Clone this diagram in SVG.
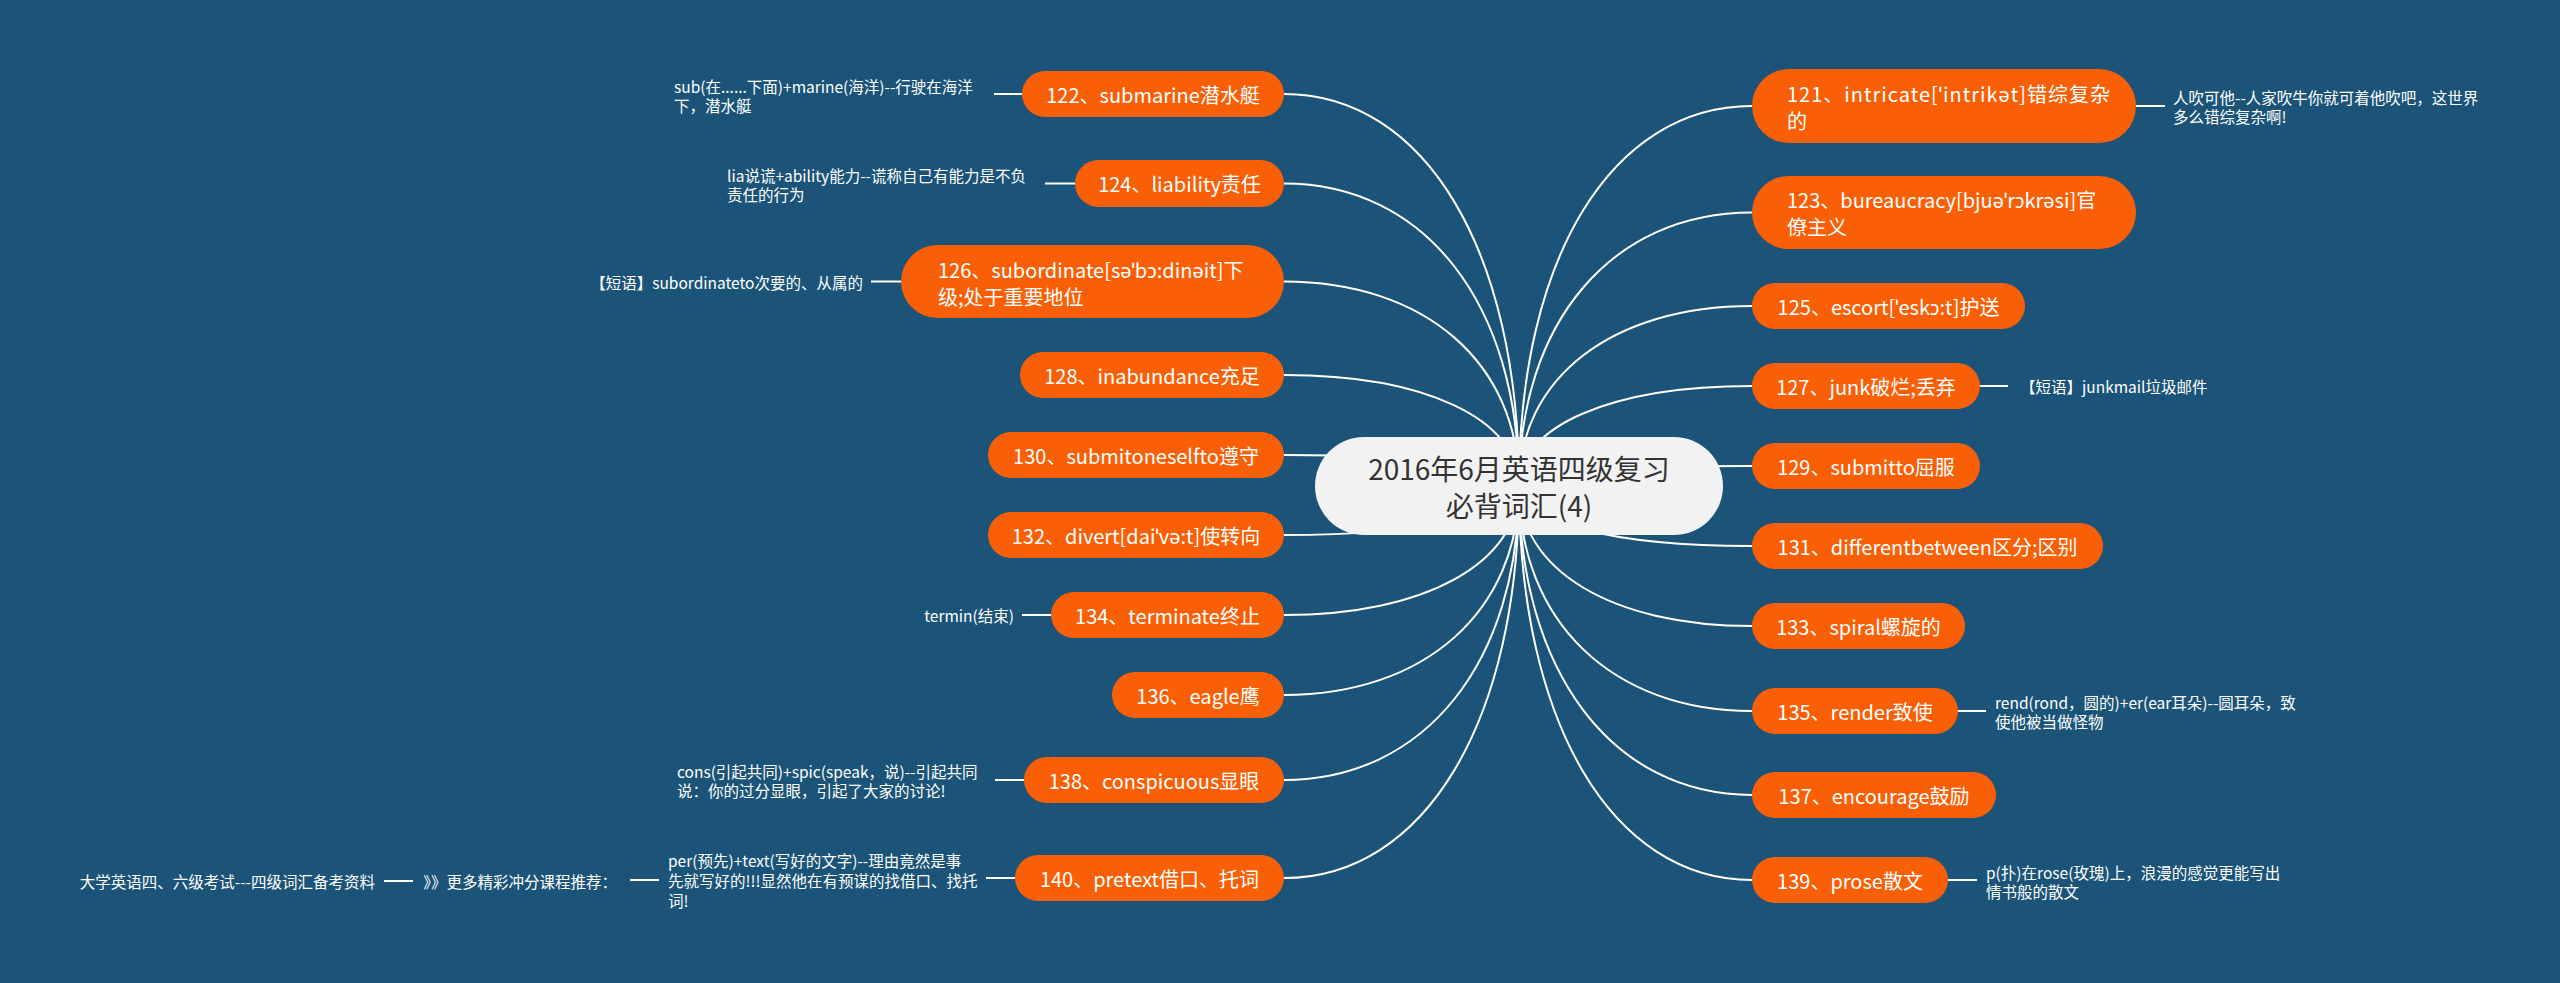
<svg xmlns="http://www.w3.org/2000/svg" width="2560" height="983" viewBox="0 0 2560 983">
<style>
.bg{fill:#1b5478}
.node rect{fill:#f95f07}
.nt{font-family:"Noto Sans CJK SC","Noto Sans",sans-serif;font-size:20px;fill:#ffffff;dominant-baseline:central}
.mid{text-anchor:middle}
.sub{font-family:"Noto Sans CJK SC","Noto Sans",sans-serif;font-size:15.5px;fill:#ffffff;dominant-baseline:central}
.end{text-anchor:end}
.root rect{fill:#f2f2f2}
.rt{font-family:"Noto Sans CJK SC","Noto Sans",sans-serif;font-size:28px;fill:#333333;text-anchor:middle;dominant-baseline:central}
.con path,.con line{stroke:#ffffff;stroke-width:2;fill:none}
</style>
<rect class="bg" x="0" y="0" width="2560" height="983"/>
<g id="connectors" class="con">
<path d="M1519,486 C1519,251 1425,94 1284,94"/>
<path d="M1519,486 C1519,304 1425,183.5 1284,183.5"/>
<path d="M1519,486 C1519,363 1425,281.5 1284,281.5"/>
<path d="M1519,486 C1519,419 1425,375 1284,375"/>
<path d="M1519,486 C1519,467 1425,455 1284,455"/>
<path d="M1519,486 C1519,515 1425,535 1284,535"/>
<path d="M1519,486 C1519,563 1425,615 1284,615"/>
<path d="M1519,486 C1519,611 1425,695 1284,695"/>
<path d="M1519,486 C1519,662 1425,780 1284,780"/>
<path d="M1519,486 C1519,721 1425,878 1284,878"/>
<path d="M1519,486 C1519,258 1612,106 1752,106"/>
<path d="M1519,486 C1519,322 1612,212.5 1752,212.5"/>
<path d="M1519,486 C1519,378 1612,306 1752,306"/>
<path d="M1519,486 C1519,426 1612,386 1752,386"/>
<path d="M1519,486 C1519,474 1612,466 1752,466"/>
<path d="M1519,486 C1519,522 1612,546 1752,546"/>
<path d="M1519,486 C1519,570 1612,626 1752,626"/>
<path d="M1519,486 C1519,621 1612,711 1752,711"/>
<path d="M1519,486 C1519,671 1612,795 1752,795"/>
<path d="M1519,486 C1519,722 1612,880 1752,880"/>
<line x1="2136" y1="106" x2="2165" y2="106"/>
<line x1="1980" y1="386" x2="2008" y2="386"/>
<line x1="1958" y1="711" x2="1986" y2="711"/>
<line x1="1948" y1="880" x2="1977" y2="880"/>
<line x1="994" y1="94" x2="1022" y2="94"/>
<line x1="1045" y1="183.5" x2="1075" y2="183.5"/>
<line x1="871" y1="281.5" x2="901" y2="281.5"/>
<line x1="1022" y1="615" x2="1051" y2="615"/>
<line x1="995" y1="780" x2="1024" y2="780"/>
<line x1="986" y1="878" x2="1015" y2="878"/>
<line x1="630" y1="880" x2="659" y2="880"/>
<line x1="384" y1="881" x2="413" y2="881"/>
</g>
<g id="root" class="root">
<rect x="1315" y="437" width="408" height="98" rx="49"/>
<text class="rt" x="1519" y="468">2016年6月英语四级复习</text>
<text class="rt" x="1519" y="505">必背词汇(4)</text>
</g>
<g id="n121" class="node"><rect x="1752" y="69" width="384" height="74" rx="37"/>
<text class="nt" x="1787" y="93" textLength="323" lengthAdjust="spacing">121、intricate[ˈintrikət]错综复杂</text><text class="nt" x="1787" y="120">的</text></g>
<g id="n123" class="node"><rect x="1752" y="176" width="384" height="73" rx="36.5"/>
<text class="nt" x="1787" y="199">123、bureaucracy[bjuəˈrɔkrəsi]官</text><text class="nt" x="1787" y="226">僚主义</text></g>
<g id="n125" class="node"><rect x="1752" y="283" width="273" height="46" rx="23"/><text class="nt mid" x="1888.5" y="306">125、escort[ˈeskɔ:t]护送</text></g>
<g id="n127" class="node"><rect x="1752" y="363" width="228" height="46" rx="23"/><text class="nt mid" x="1866" y="386">127、junk破烂;丢弃</text></g>
<g id="n129" class="node"><rect x="1752" y="443" width="228" height="46" rx="23"/><text class="nt mid" x="1866" y="466">129、submitto屈服</text></g>
<g id="n131" class="node"><rect x="1752" y="523" width="351" height="46" rx="23"/><text class="nt mid" x="1927.5" y="546">131、differentbetween区分;区别</text></g>
<g id="n133" class="node"><rect x="1752" y="603" width="213" height="46" rx="23"/><text class="nt mid" x="1858.5" y="626">133、spiral螺旋的</text></g>
<g id="n135" class="node"><rect x="1752" y="688" width="206" height="46" rx="23"/><text class="nt mid" x="1855" y="711">135、render致使</text></g>
<g id="n137" class="node"><rect x="1752" y="772" width="244" height="46" rx="23"/><text class="nt mid" x="1874" y="795">137、encourage鼓励</text></g>
<g id="n139" class="node"><rect x="1752" y="857" width="196" height="46" rx="23"/><text class="nt mid" x="1850" y="880">139、prose散文</text></g>
<g id="n122" class="node"><rect x="1022" y="71" width="262" height="46" rx="23"/><text class="nt mid" x="1153" y="94">122、submarine潜水艇</text></g>
<g id="n124" class="node"><rect x="1075" y="160" width="209" height="47" rx="23.5"/><text class="nt mid" x="1179.5" y="183.5">124、liability责任</text></g>
<g id="n126" class="node"><rect x="901" y="245" width="383" height="73" rx="36.5"/>
<text class="nt" x="938" y="269">126、subordinate[səˈbɔ:dinəit]下</text><text class="nt" x="938" y="296">级;处于重要地位</text></g>
<g id="n128" class="node"><rect x="1020" y="352" width="264" height="46" rx="23"/><text class="nt mid" x="1152" y="375">128、inabundance充足</text></g>
<g id="n130" class="node"><rect x="988" y="432" width="296" height="46" rx="23"/><text class="nt mid" x="1136" y="455">130、submitoneselfto遵守</text></g>
<g id="n132" class="node"><rect x="988" y="512" width="296" height="46" rx="23"/><text class="nt mid" x="1136" y="535">132、divert[daiˈvə:t]使转向</text></g>
<g id="n134" class="node"><rect x="1051" y="592" width="233" height="46" rx="23"/><text class="nt mid" x="1167.5" y="615">134、terminate终止</text></g>
<g id="n136" class="node"><rect x="1112" y="672" width="172" height="46" rx="23"/><text class="nt mid" x="1198" y="695">136、eagle鹰</text></g>
<g id="n138" class="node"><rect x="1024" y="757" width="260" height="46" rx="23"/><text class="nt mid" x="1154" y="780">138、conspicuous显眼</text></g>
<g id="n140" class="node"><rect x="1015" y="855" width="269" height="46" rx="23"/><text class="nt mid" x="1149.5" y="878">140、pretext借口、托词</text></g>
<g id="s121"><text class="sub" x="2173" y="97">人吹可他--人家吹牛你就可着他吹吧，这世界</text><text class="sub" x="2173" y="116">多么错综复杂啊!</text></g>
<g id="s127"><text class="sub" x="2020" y="386">【短语】junkmail垃圾邮件</text></g>
<g id="s135"><text class="sub" x="1995" y="702">rend(rond，圆的)+er(ear耳朵)--圆耳朵，致</text><text class="sub" x="1995" y="721">使他被当做怪物</text></g>
<g id="s139"><text class="sub" x="1986" y="872">p(扑)在rose(玫瑰)上，浪漫的感觉更能写出</text><text class="sub" x="1986" y="891">情书般的散文</text></g>
<g id="s122"><text class="sub" x="674" y="86">sub(在......下面)+marine(海洋)--行驶在海洋</text><text class="sub" x="674" y="105">下，潜水艇</text></g>
<g id="s124"><text class="sub" x="727" y="175">lia说谎+ability能力--谎称自己有能力是不负</text><text class="sub" x="727" y="194">责任的行为</text></g>
<g id="s126"><text class="sub end" x="863" y="281.5">【短语】subordinateto次要的、从属的</text></g>
<g id="s134"><text class="sub end" x="1014" y="615">termin(结束)</text></g>
<g id="s138"><text class="sub" x="677" y="771">cons(引起共同)+spic(speak，说)--引起共同</text><text class="sub" x="677" y="790">说：你的过分显眼，引起了大家的讨论!</text></g>
<g id="s140"><text class="sub" x="668" y="860">per(预先)+text(写好的文字)--理由竟然是事</text><text class="sub" x="668" y="880">先就写好的!!!显然他在有预谋的找借口、找托</text><text class="sub" x="668" y="900">词!</text></g>
<g id="s140b"><text class="sub end" x="617" y="881">》》更多精彩冲分课程推荐：</text></g>
<g id="s140c"><text class="sub end" x="375" y="881">大学英语四、六级考试---四级词汇备考资料</text></g>
</svg>
